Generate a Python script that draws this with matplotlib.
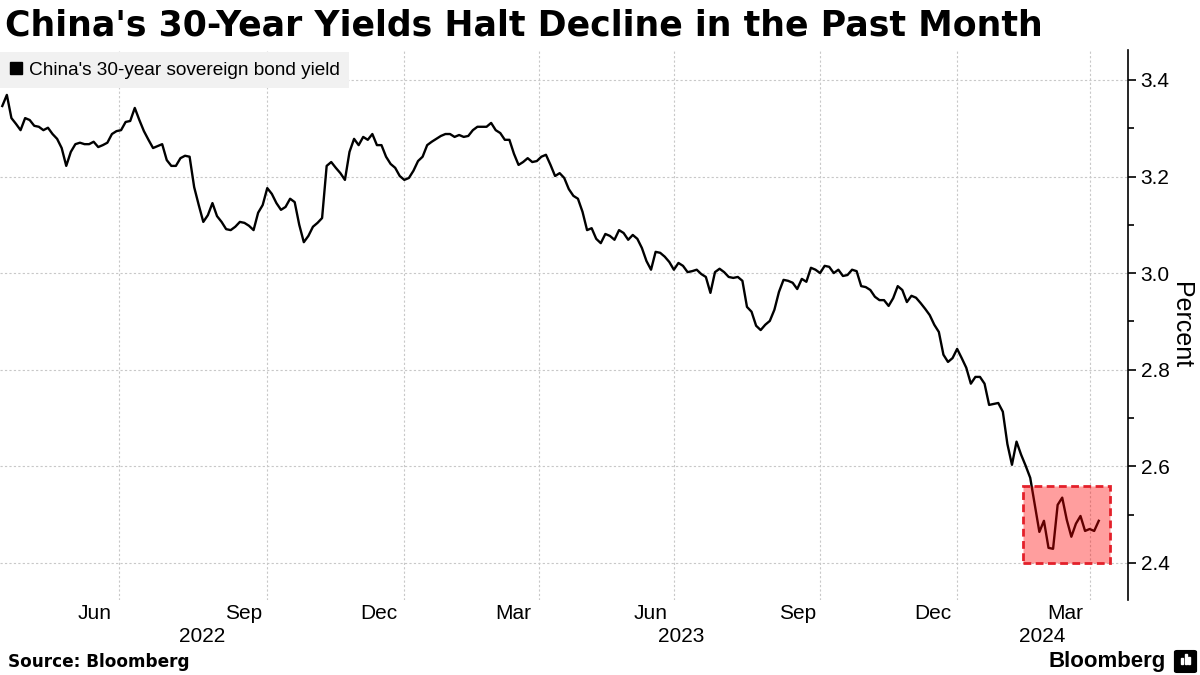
import matplotlib
matplotlib.use("Agg")
import matplotlib.pyplot as plt
import matplotlib.transforms as mtransforms
from matplotlib.patches import Rectangle, FancyBboxPatch
from matplotlib.lines import Line2D
from matplotlib.ticker import MultipleLocator
import numpy as np
import pandas as pd

plt.rcParams['font.family'] = ['Liberation Sans', 'DejaVu Sans']

# weekday market holidays in China (the x axis runs on trading days)
CN_HOLIDAYS = [
    '2022-05-02', '2022-05-03', '2022-05-04', '2022-06-03', '2022-09-12',
    '2022-10-03', '2022-10-04', '2022-10-05', '2022-10-06', '2022-10-07',
    '2023-01-02', '2023-01-23', '2023-01-24', '2023-01-25', '2023-01-26',
    '2023-01-27', '2023-04-05', '2023-05-01', '2023-05-02', '2023-05-03',
    '2023-06-22', '2023-06-23', '2023-09-29', '2023-10-02', '2023-10-03',
    '2023-10-04', '2023-10-05', '2023-10-06',
    '2024-01-01', '2024-02-09', '2024-02-12', '2024-02-13', '2024-02-14',
    '2024-02-15', '2024-02-16', '2024-04-04', '2024-04-05',
]

first_day = '2022-04-15'
last_axis_day = '2024-04-25'

# 30-year yield, read every second trading day
yield_pct = [
    3.346, 3.369, 3.321, 3.309, 3.296, 3.321, 3.317, 3.305, 3.303, 3.296,
    3.301, 3.288, 3.278, 3.259, 3.222, 3.251, 3.267, 3.270, 3.267, 3.267,
    3.272, 3.261, 3.265, 3.270, 3.288, 3.294, 3.296, 3.313, 3.315, 3.342,
    3.317, 3.294, 3.276, 3.259, 3.263, 3.267, 3.234, 3.222, 3.222, 3.238,
    3.243, 3.241, 3.178, 3.141, 3.106, 3.120, 3.145, 3.118, 3.106, 3.091,
    3.089, 3.096, 3.106, 3.104, 3.098, 3.089, 3.125, 3.141, 3.176, 3.164,
    3.145, 3.131, 3.137, 3.154, 3.147, 3.100, 3.064, 3.077, 3.096, 3.104,
    3.114, 3.222, 3.230, 3.218, 3.207, 3.193, 3.251, 3.278, 3.265, 3.282,
    3.276, 3.288, 3.265, 3.265, 3.241, 3.226, 3.218, 3.201, 3.193, 3.197,
    3.212, 3.232, 3.241, 3.265, 3.272, 3.278, 3.284, 3.288, 3.288, 3.282,
    3.286, 3.282, 3.284, 3.296, 3.303, 3.303, 3.303, 3.311, 3.296, 3.290,
    3.276, 3.276, 3.247, 3.224, 3.230, 3.238, 3.230, 3.232, 3.241, 3.245,
    3.224, 3.201, 3.207, 3.197, 3.174, 3.160, 3.154, 3.127, 3.089, 3.093,
    3.071, 3.062, 3.081, 3.077, 3.069, 3.089, 3.083, 3.069, 3.079, 3.071,
    3.052, 3.025, 3.007, 3.044, 3.042, 3.034, 3.023, 3.007, 3.021, 3.015,
    3.002, 3.004, 3.007, 2.998, 2.992, 2.959, 3.002, 3.009, 3.002, 2.992,
    2.990, 2.992, 2.984, 2.930, 2.920, 2.891, 2.882, 2.893, 2.901, 2.924,
    2.961, 2.986, 2.984, 2.980, 2.967, 2.988, 2.982, 3.011, 3.007, 3.000,
    3.015, 3.013, 3.000, 3.007, 2.994, 2.996, 3.007, 3.004, 2.973, 2.971,
    2.965, 2.951, 2.944, 2.944, 2.932, 2.948, 2.973, 2.965, 2.940, 2.953,
    2.949, 2.938, 2.926, 2.913, 2.893, 2.878, 2.831, 2.816, 2.824, 2.843,
    2.824, 2.804, 2.771, 2.785, 2.785, 2.771, 2.727, 2.729, 2.731, 2.713,
    2.646, 2.603, 2.651, 2.624, 2.601, 2.576, 2.520, 2.464, 2.487, 2.431,
    2.429, 2.520, 2.535, 2.489, 2.454, 2.481, 2.497, 2.466, 2.470, 2.466,
    2.487,
]

month_labels = ['Jun', 'Sep', 'Dec', 'Mar', 'Jun', 'Sep', 'Dec', 'Mar']
month_starts = ['2022-06-01', '2022-09-01', '2022-12-01', '2023-03-01',
                '2023-06-01', '2023-09-01', '2023-12-01', '2024-03-01']
years = ['2022', '2023', '2024']
year_starts = ['2023-01-01', '2024-01-01']
yticks = [2.4, 2.6, 2.8, 3.0, 3.2, 3.4]

# "past month" highlight
box_start, box_end = '2024-02-20', '2024-04-16'
box_low, box_high = 2.40, 2.56

title = "China's 30-Year Yields Halt Decline in the Past Month"
series_name = "China's 30-year sovereign bond yield"


days = pd.bdate_range(first_day, last_axis_day, freq='C', holidays=CN_HOLIDAYS)
x = np.arange(len(days))[::2][:len(yield_pct)]


def pos(d):
    return days.searchsorted(pd.Timestamp(d))


W, H = 1200, 675
fig = plt.figure(figsize=(W / 100, H / 100), dpi=100)
ax = fig.add_axes([0, 75 / H, 1128 / W, 550 / H])

ax.plot(x, yield_pct, color='black', lw=1.7, zorder=3, solid_joinstyle='round')

b0, b1 = pos(box_start), pos(box_end)
ax.add_patch(Rectangle((b0, box_low), b1 - b0, box_high - box_low,
                       facecolor=(1, 0, 0, 0.38), edgecolor='#e3202a',
                       lw=2, linestyle=(0, (2.8, 1.6)), zorder=4))

ax.set_xlim(-1, len(days) - 0.2)
ax.set_ylim(2.323, 3.462)

# gridlines at quarter boundaries, labels centred in the month
grid_x = [pos(pd.Timestamp(m) + pd.offsets.MonthBegin(1)) for m in month_starts]
label_x = [(pos(m) + g) / 2 for m, g in zip(month_starts, grid_x)]
ax.set_xticks(grid_x)
ax.set_xticklabels([])
ax.set_xticks(label_x, minor=True)
ax.set_xticklabels(month_labels, minor=True)
ax.tick_params(axis='x', which='both', length=0)
ax.tick_params(axis='x', which='minor', labelsize=15, pad=3)

edges = [ax.get_xlim()[0]] + [pos(y) for y in year_starts] + [ax.get_xlim()[1]]
trans = mtransforms.blended_transform_factory(ax.transData, ax.transAxes)
for i, yr in enumerate(years):
    ax.text((edges[i] + edges[i + 1]) / 2, -0.066, yr, transform=trans,
            ha='center', va='center', fontsize=15)

ax.yaxis.tick_right()
ax.set_yticks(yticks)
ax.set_yticklabels([f'{v:.1f}' for v in yticks])
ax.yaxis.set_minor_locator(MultipleLocator(0.1))
ax.tick_params(axis='y', which='major', length=6, width=1.2, labelsize=15, pad=3)
ax.tick_params(axis='y', which='minor', length=4, width=1.2)
ax.yaxis.set_label_position('right')
ax.set_ylabel('Percent', rotation=270, fontsize=18, labelpad=17)

ax.grid(axis='x', which='major', color='#c8c8c8', lw=0.8, linestyle=(0, (2, 2)))
ax.grid(axis='y', which='major', color='#c8c8c8', lw=0.8, linestyle=(0, (2, 2)))
for s in ['left', 'top', 'bottom']:
    ax.spines[s].set_visible(False)
ax.spines['right'].set_color('black')
ax.spines['right'].set_linewidth(1.2)

handle = Line2D([], [], marker='s', color='black', ls='none', markersize=8)
leg = ax.legend([handle], [series_name], loc='upper left',
                bbox_to_anchor=(0, 1 - 2 / 550), borderaxespad=0,
                frameon=True, fancybox=False, facecolor='#f1f1f1',
                edgecolor='none', framealpha=1, fontsize=13.7,
                handlelength=0.7, handletextpad=0.3, borderpad=0.5)

fig.text(5 / W, 1 - 25 / H, title, fontsize=25, fontweight='bold',
         family='DejaVu Sans', ha='left', va='center')
fig.text(8 / W, 1 - 662 / H, 'Source: Bloomberg', fontsize=12.2,
         fontweight='bold', family='DejaVu Sans', ha='left', va='center')
fig.text(1166 / W, 1 - 662 / H, 'Bloomberg', fontsize=16, fontweight='bold',
         ha='right', va='center')

# little logo mark
fig.patches.append(FancyBboxPatch((1177 / W, 1 - 671 / H), 17 / W, 19 / H,
                                  boxstyle='round,pad=0.002',
                                  transform=fig.transFigure, color='black'))
for bx, bh in [(1181, 6), (1184.5, 10), (1188, 7)]:
    fig.patches.append(Rectangle((bx / W, 1 - 664 / H), 2 / W, bh / H,
                                 transform=fig.transFigure, color='white'))

fig.savefig('out.png', dpi=100)
